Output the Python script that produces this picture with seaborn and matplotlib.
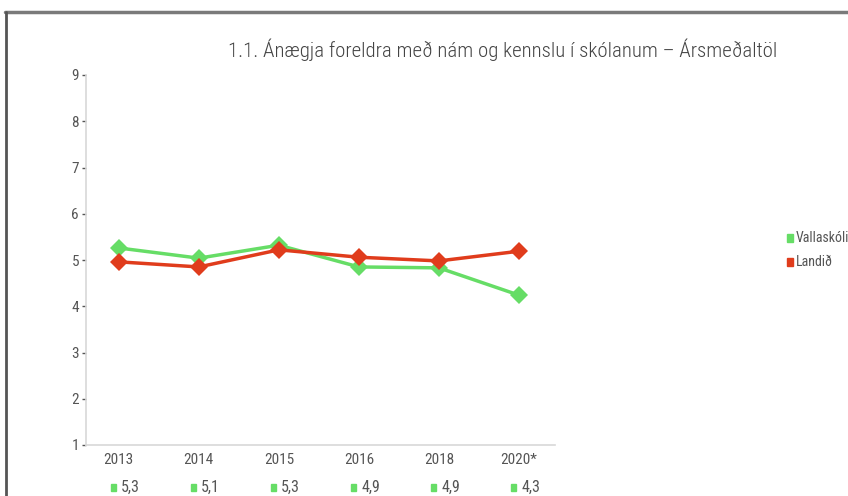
import pandas as pd
import matplotlib.pyplot as plt
import seaborn as sns
from matplotlib.patches import Rectangle
from matplotlib.lines import Line2D

# Gögn lesin af myndinni
years = ["2013", "2014", "2015", "2016", "2018", "2020*"]
vallaskoli = [5.26, 5.04, 5.32, 4.85, 4.83, 4.24]
landid = [4.96, 4.85, 5.22, 5.06, 4.98, 5.19]
table_labels = ["5,3", "5,1", "5,3", "4,9", "4,9", "4,3"]

green = "#66dd66"
red = "#e03c1c"

df = pd.DataFrame({
    "Ár": years * 2,
    "Gildi": vallaskoli + landid,
    "Hópur": ["Vallaskóli"] * len(years) + ["Landið"] * len(years),
})

sns.set_style("white")
plt.rcParams["font.family"] = ["Roboto Condensed", "Archivo Narrow", "DejaVu Sans"]

fig = plt.figure(figsize=(8.48, 4.96), dpi=100)
ax = fig.add_axes([86 / 848, 51 / 496, (555 - 86) / 848, (445 - 75) / 496])

sns.lineplot(data=df, x="Ár", y="Gildi", hue="Hópur", palette=[green, red],
             marker="D", markersize=9, markeredgewidth=0, linewidth=2.5,
             sort=False, ax=ax, legend=False)

ax.set_ylim(1, 9)
ax.set_xlim(-0.41, 5.45)
ax.set_yticks(range(1, 10))
ax.set_xlabel("")
ax.set_ylabel("")
ax.tick_params(axis="y", length=3, width=1, color="#555555", labelsize=11,
               labelcolor="#555555", pad=2, left=True)
ax.tick_params(axis="x", length=0, labelsize=11, labelcolor="#555555", pad=6)
for side in ["top", "right"]:
    ax.spines[side].set_visible(False)
for side in ["left", "bottom"]:
    ax.spines[side].set_color("#d8d8d8")
    ax.spines[side].set_linewidth(1.2)

# Tafla með gildum undir ásnum
for i, lab in enumerate(table_labels):
    ax.text(i + 0.03, -0.115, lab, transform=ax.get_xaxis_transform(),
            ha="left", va="center", fontsize=11.5, color="#555555")
    ax.add_patch(Rectangle((i - 0.1, -0.123), 0.06, 0.018,
                           transform=ax.get_xaxis_transform(),
                           color=green, clip_on=False))

# Skýringar
for y, name, col in [(238, "Vallaskóli", green), (262, "Landið", red)]:
    fig.patches.append(Rectangle((787 / 848, 1 - (y + 4) / 496), 6 / 848, 8 / 496,
                                 transform=fig.transFigure, color=col))
    fig.text(796 / 848, 1 - y / 496, name, ha="left", va="center",
             fontsize=10, color="#555555")

fig.text(503 / 848, 1 - 50 / 496,
         "1.1. Ánægja foreldra með nám og kennslu í skólanum – Ársmeðaltöl",
         ha="center", va="center", fontsize=15, color="#444444",
         fontweight="light")

# Rammi (efri lína og vinstri lína)
fig.lines.append(Line2D([5 / 848, 1], [1 - 11.5 / 496] * 2, transform=fig.transFigure,
                        color="#7a7a7a", linewidth=2.5))
fig.lines.append(Line2D([6 / 848] * 2, [0, 1 - 11.5 / 496], transform=fig.transFigure,
                        color="#555555", linewidth=2))

fig.savefig("out.png", dpi=100)
